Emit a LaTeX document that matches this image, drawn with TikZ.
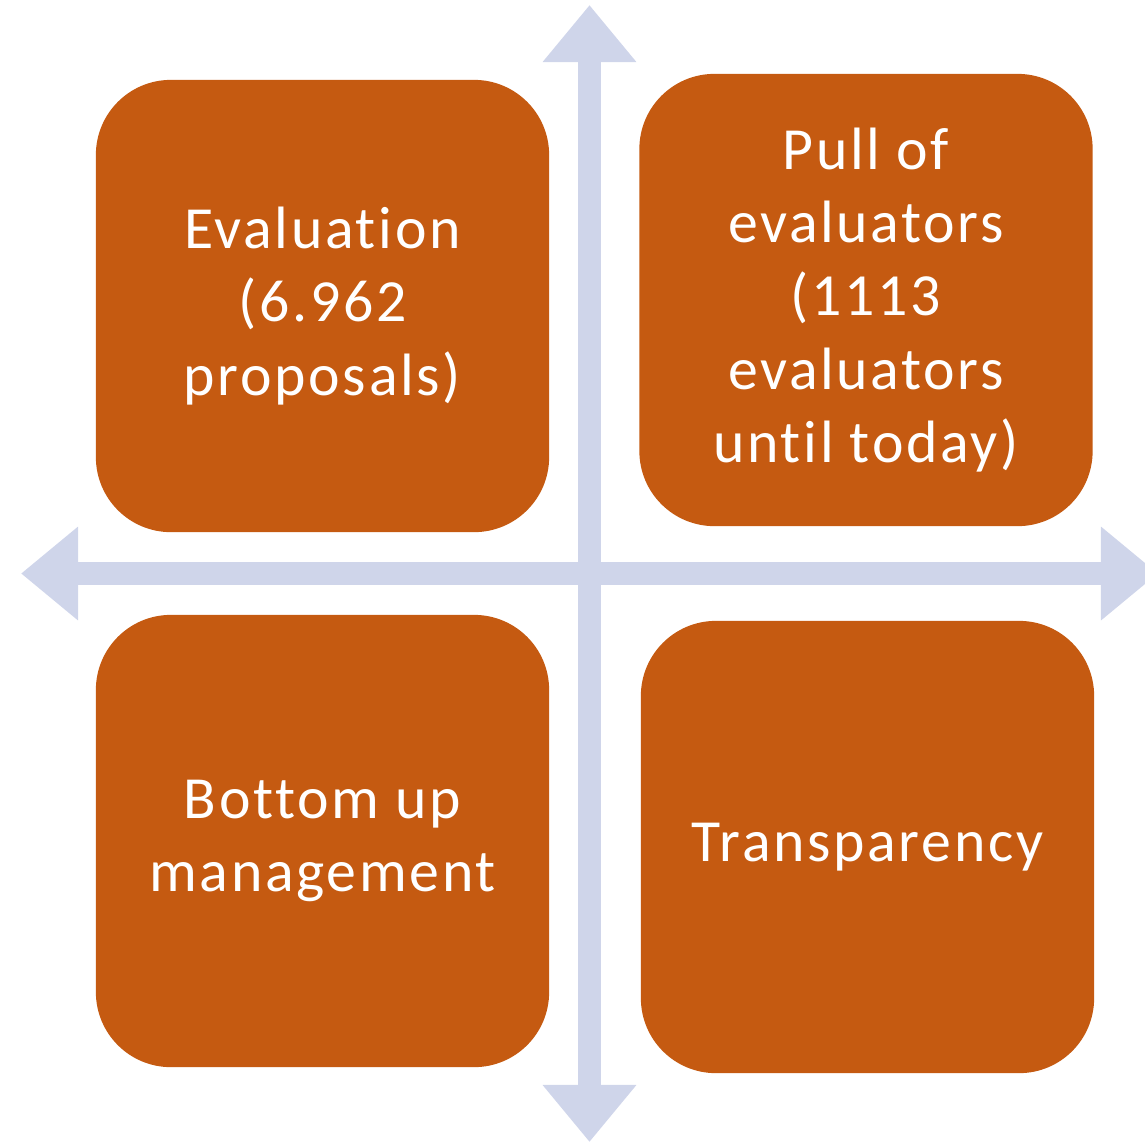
\documentclass[tikz,border=0pt]{standalone}
\usepackage{fontspec}
\setmainfont{Carlito}[Ligatures=CommonOff, LetterSpace=4.5]
\usepackage{tikz}
\usetikzlibrary{arrows.meta}
\definecolor{boxorange}{HTML}{C55A11}
\definecolor{axisblue}{HTML}{CFD5EA}

\begin{document}
\begin{tikzpicture}[x=0.01cm, y=-0.01cm,
		quad/.style={fill=boxorange, draw=none, rounded corners=0.75cm, inner sep=0pt,
			minimum width=4.53cm, minimum height=4.52cm, align=center, text=white,
			font=\fontsize{17}{20.8}\selectfont},
		axis/.style={draw=axisblue, line width=0.23cm,
			{Triangle[length=0.57cm,width=0.90cm]}-{Triangle[length=0.57cm,width=0.90cm]}}]
		\useasboundingbox (0,0) rectangle (1145,1141);
		\coordinate (north) at (589.5,5);
		\coordinate (south) at (589.5,1142);
		\coordinate (west) at (21,573.5);
		\coordinate (east) at (1158,573.5);
		\draw[axis] (north) -- (south);
		\draw[axis] (west) -- (east);
		\node[quad] (eval) at (322.5,306) {Evaluation\\(6.962\\proposals)};
		\node[quad] (pool) at (866,300) {Pull of\\evaluators\\(1113\\evaluators\\until today)};
		\node[quad] (mgmt) at (322.5,841) {Bottom up\\management};
		\node[quad] (transp) at (867.5,847) {Transparency};
	\end{tikzpicture}
\end{document}
